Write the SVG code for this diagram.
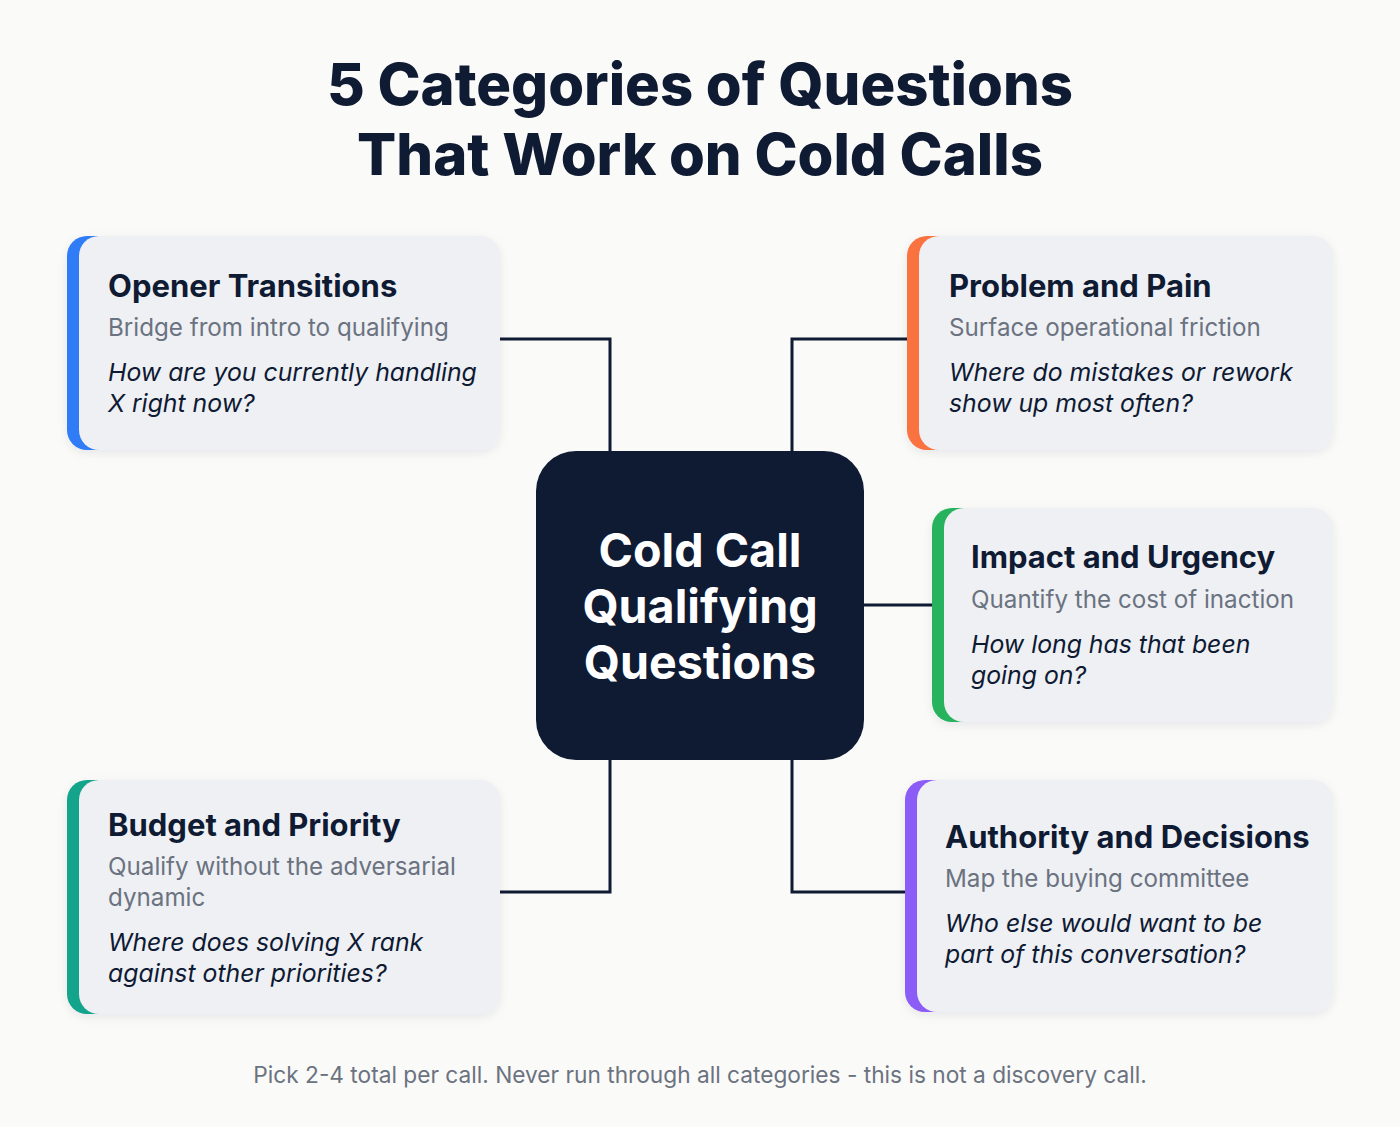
<svg xmlns="http://www.w3.org/2000/svg" width="1400" height="1127" viewBox="0 0 1400 1127">
<defs>
<style>
.title{font-family:Inter,"Liberation Sans",sans-serif;font-weight:800;font-size:58px;fill:#0f1a33;text-anchor:middle}
.ct{font-family:Inter,"Liberation Sans",sans-serif;font-weight:700;font-size:31px;fill:#0f1a33}
.cs{font-family:Inter,"Liberation Sans",sans-serif;font-weight:400;font-size:24.2px;fill:#6b7280}
.cq{font-family:Inter,"Liberation Sans",sans-serif;font-style:italic;font-weight:400;font-size:24.8px;fill:#0f1a33}
.center{font-family:Inter,"Liberation Sans",sans-serif;font-weight:700;font-size:46.6px;fill:#ffffff;text-anchor:middle}
.foot{font-family:Inter,"Liberation Sans",sans-serif;font-size:22.7px;fill:#6b7280;text-anchor:middle}
.card{fill:#eef0f4}
.conn{fill:none;stroke:#0f1a33;stroke-width:3}
</style>
<filter id="sh" x="-10%" y="-10%" width="120%" height="130%">
<feDropShadow dx="0" dy="3" stdDeviation="5" flood-color="#0f1a33" flood-opacity="0.08"/>
</filter>
</defs>
<rect width="1400" height="1127" fill="#fafaf8"/>
<text class="title" x="700" y="105">5 Categories of Questions</text>
<text class="title" x="700" y="175">That Work on Cold Calls</text>

<g id="connectors">
<path class="conn" d="M500 339 H610 V452"/>
<path class="conn" d="M907 339 H792 V452"/>
<path class="conn" d="M864 605 H932"/>
<path class="conn" d="M500 892 H610 V760"/>
<path class="conn" d="M905 892 H792 V760"/>
</g>

<g id="center">
<rect x="536" y="451" width="328" height="309" rx="40" fill="#0f1a33"/>
<text class="center" x="700" y="567">Cold Call</text>
<text class="center" x="700" y="623">Qualifying</text>
<text class="center" x="700" y="679">Questions</text>
</g>

<g id="opener">
<rect x="67" y="236" width="433" height="214" rx="20" class="card" filter="url(#sh)"/>
<rect x="67" y="236" width="60" height="214" rx="20" fill="#2f7cf6"/>
<rect x="79" y="236" width="421" height="214" rx="20" class="card"/>
<text class="ct" x="108" y="297">Opener Transitions</text>
<text class="cs" x="108" y="336">Bridge from intro to qualifying</text>
<text class="cq" x="108" y="381">How are you currently handling</text>
<text class="cq" x="108" y="412">X right now?</text>
</g>

<g id="problem">
<rect x="907" y="236" width="426" height="214" rx="20" class="card" filter="url(#sh)"/>
<rect x="907" y="236" width="60" height="214" rx="20" fill="#f97240"/>
<rect x="919" y="236" width="414" height="214" rx="20" class="card"/>
<text class="ct" x="949" y="297">Problem and Pain</text>
<text class="cs" x="949" y="336">Surface operational friction</text>
<text class="cq" x="949" y="381">Where do mistakes or rework</text>
<text class="cq" x="949" y="412">show up most often?</text>
</g>

<g id="impact">
<rect x="932" y="508" width="401" height="214" rx="20" class="card" filter="url(#sh)"/>
<rect x="932" y="508" width="60" height="214" rx="20" fill="#27b35e"/>
<rect x="944" y="508" width="389" height="214" rx="20" class="card"/>
<text class="ct" x="971" y="568">Impact and Urgency</text>
<text class="cs" x="971" y="608">Quantify the cost of inaction</text>
<text class="cq" x="971" y="653">How long has that been</text>
<text class="cq" x="971" y="684">going on?</text>
</g>

<g id="budget">
<rect x="67" y="780" width="433" height="234" rx="20" class="card" filter="url(#sh)"/>
<rect x="67" y="780" width="60" height="234" rx="20" fill="#14a38b"/>
<rect x="79" y="780" width="421" height="234" rx="20" class="card"/>
<text class="ct" x="108" y="836">Budget and Priority</text>
<text class="cs" x="108" y="875">Qualify without the adversarial</text>
<text class="cs" x="108" y="906">dynamic</text>
<text class="cq" x="108" y="951">Where does solving X rank</text>
<text class="cq" x="108" y="982">against other priorities?</text>
</g>

<g id="authority">
<rect x="905" y="780" width="428" height="232" rx="20" class="card" filter="url(#sh)"/>
<rect x="905" y="780" width="60" height="232" rx="20" fill="#8b5cf6"/>
<rect x="917" y="780" width="416" height="232" rx="20" class="card"/>
<text class="ct" x="945" y="848">Authority and Decisions</text>
<text class="cs" x="945" y="887">Map the buying committee</text>
<text class="cq" x="945" y="932">Who else would want to be</text>
<text class="cq" x="945" y="963">part of this conversation?</text>
</g>

<text class="foot" x="700" y="1083">Pick 2-4 total per call. Never run through all categories - this is not a discovery call.</text>
</svg>
